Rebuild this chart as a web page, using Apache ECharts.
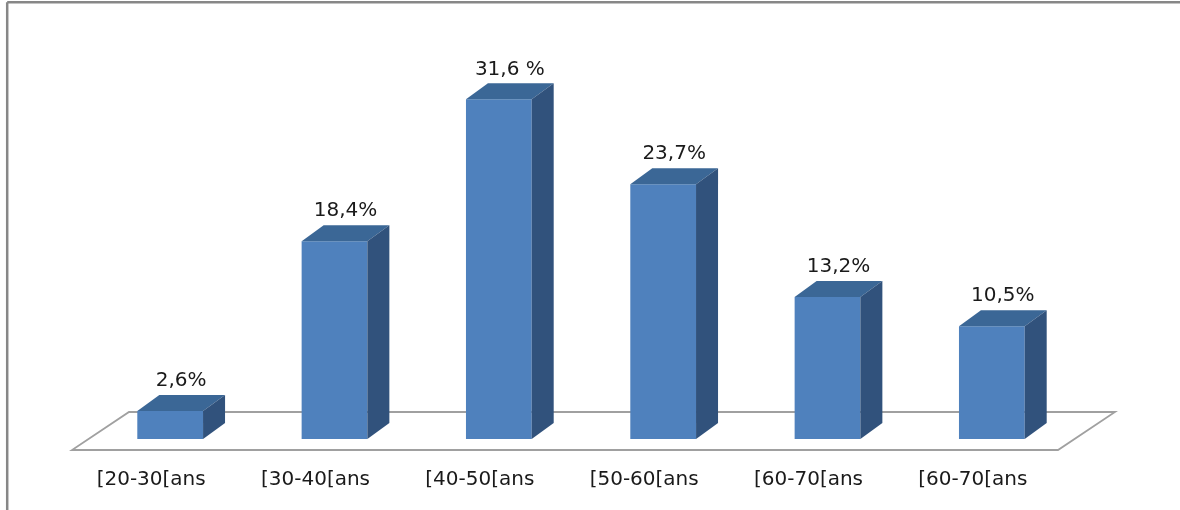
<!DOCTYPE html>
<html>
<head>
<meta charset="utf-8">
<script src="https://cdn.jsdelivr.net/npm/echarts@6/dist/echarts.min.js"></script>
<style>
  html, body { margin: 0; padding: 0; background: #fff; }
  #chart { width: 1180px; height: 510px; }
</style>
</head>
<body>
<div id="chart"></div>
<script>
const categories = ['[20-30[ans', '[30-40[ans', '[40-50[ans', '[50-60[ans', '[60-70[ans', '[60-70[ans'];
const values = [2.6, 18.4, 31.6, 23.7, 13.2, 10.5];
const valueLabels = ['2,6%', '18,4%', '31,6 %', '23,7%', '13,2%', '10,5%'];

const depthX = 22;
const depthY = 16;
const FONT = 'DejaVu Sans';

// floor drawn as a slanted plate around the zero line
function renderFloor(params, api) {
    const cs = params.coordSys;
    const base = api.coord([0, 0])[1];
    return {
        type: 'polygon',
        shape: {
            points: [
                [cs.x - 16, base + 11],
                [cs.x + cs.width - 16, base + 11],
                [cs.x + cs.width + 41, base - 27],
                [cs.x + 41, base - 27]
            ]
        },
        style: { fill: '#fff', stroke: '#a0a0a0', lineWidth: 1.8 }
    };
}

function renderBar(params, api) {
    const i = api.value(0);
    const v = api.value(1);
    const top = api.coord([i, v]);
    const bottom = api.coord([i, 0]);
    const w = api.size([1, 0])[0] * 0.4;
    const x0 = top[0] - w / 2, x1 = top[0] + w / 2;
    const yT = top[1], yB = bottom[1];
    return {
        type: 'group',
        children: [
            { type: 'rect', shape: { x: x0, y: yT, width: w, height: yB - yT }, style: { fill: '#4f81bd' } },
            { type: 'polygon', shape: { points: [[x0, yT], [x1, yT], [x1 + depthX, yT - depthY], [x0 + depthX, yT - depthY]] }, style: { fill: '#3b6796' } },
            { type: 'polygon', shape: { points: [[x1, yT], [x1 + depthX, yT - depthY], [x1 + depthX, yB - depthY], [x1, yB]] }, style: { fill: '#31527c' } },
            {
                type: 'text',
                x: top[0] + depthX / 2,
                y: yT - 30,
                style: {
                    text: valueLabels[params.dataIndex],
                    font: '20px "' + FONT + '"',
                    fill: '#1a1a1a',
                    align: 'center',
                    verticalAlign: 'middle'
                }
            }
        ]
    };
}

const myChart = echarts.init(document.getElementById('chart'));
myChart.setOption({
    animation: false,
    grid: { left: 88, right: 106, top: 9, bottom: 71 },
    xAxis: {
        type: 'category',
        data: categories,
        axisLine: { show: false },
        axisTick: { show: false },
        axisLabel: {
            margin: 31,
            padding: [0, 38, 0, 0],
            fontFamily: FONT,
            fontSize: 20,
            color: '#1a1a1a'
        }
    },
    yAxis: {
        type: 'value',
        min: 0,
        max: 40,
        show: false
    },
    graphic: [
        { type: 'line', shape: { x1: 7.2, y1: 2.2, x2: 1180, y2: 2.2 }, style: { stroke: '#878787', lineWidth: 2.5 } },
        { type: 'line', shape: { x1: 7.2, y1: 2.2, x2: 7.2, y2: 510 }, style: { stroke: '#878787', lineWidth: 2.5 } }
    ],
    series: [
        {
            type: 'custom',
            renderItem: renderFloor,
            data: [[0, 0]],
            silent: true,
            z: 1
        },
        {
            type: 'custom',
            renderItem: renderBar,
            data: values.map((v, i) => [i, v]),
            z: 2
        }
    ]
});
window.addEventListener('resize', myChart.resize);
</script>
</body>
</html>
